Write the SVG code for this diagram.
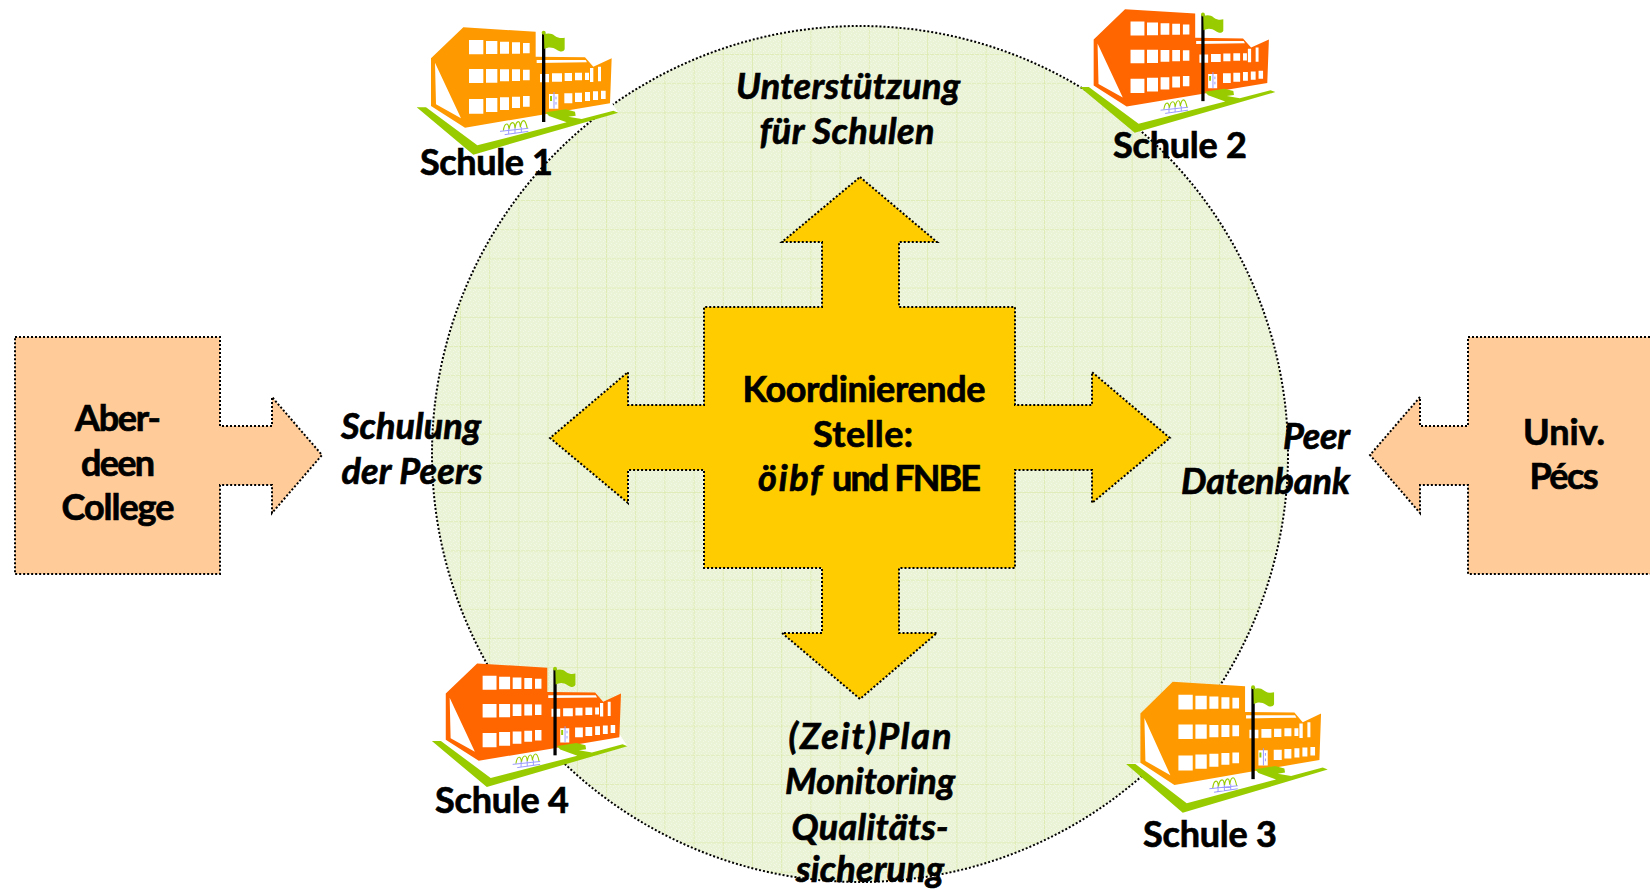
<svg xmlns="http://www.w3.org/2000/svg" width="1650" height="889" viewBox="0 0 1650 889">
<style>
text{font-family:"Lato","Noto Sans","Liberation Sans",sans-serif;font-weight:700;font-size:36px;fill:#000;stroke:#000;stroke-width:.7;text-anchor:middle}
.i{font-style:italic}
.dot{stroke:#000;stroke-width:2;stroke-dasharray:2 2}
.w{fill:#fff}
.g{fill:#9c0}
.fence{fill:none;stroke:#9c0;stroke-width:3.5}
.b{fill:none;stroke:#99f;stroke-width:3}
</style>
<defs>
<pattern id="grid" patternUnits="userSpaceOnUse" x="460" y="346" width="29.2" height="29.2">
<rect width="29.2" height="29.2" fill="#ebf3d6"/>
<path d="M0 0H29.2M0 0V29.2" fill="none" stroke="#d6e7a0" stroke-width="1.2"/>
</pattern>
<pattern id="dither" patternUnits="userSpaceOnUse" width="5" height="5">
<path d="M0 0h1v1H0zM3 1h1v1H3zM1 3h1v1H1zM4 4h1v1H4z" fill="#fff" opacity=".4"/>
</pattern>
<g id="school">
<path class="w" d="M93 318L50 322L232 436L655 338L630 300Z"/>
<path fill="currentColor" d="M190 82L407 95V170L555 172L580 200L635 175L630 310L195 383L93 318V175Z"/>
<path class="w" d="M105 188L183 355L108 313ZM410 180H557L561 187L410 189Z"/>
<path class="w" d="M207 120h43v43h-43zM258 123h34v39h-34zM300 125h27v36h-27zM336 127h24v34h-24zM369 129h20v31h-20zM207 207h43v42h-43zM258 207h34v41h-34zM300 208h27v36h-27zM336 208h24v35h-24zM369 209h20v32h-20zM207 297h43v44h-43zM258 294h34v42h-34zM300 292h27v38h-27zM336 290h24v34h-24zM369 288h20v32h-20zM420 222h27v25h-27zM456 220h30v25h-30zM494 219h22v24h-22zM525 218h21v23h-21zM555 218h12v22h-12zM493 280h24v30h-24zM525 278h21v28h-21zM555 276h15v27h-15zM579 274h15v26h-15zM603 272h14v25h-14zM570 204h10v42h-10zM594 200h9v44h-9zM447 282h28v44h-28z"/>
<path class="g" d="M450 288h6v15h-6zM50 322H78L232 436L500 367L447 348L437 337L497 328L525 335L527 347L505 350L545 357L640 332L655 338L220 464Z"/>
<path class="b" d="M462 276V326M468 290v8M468 306v8"/>
<path class="fence" d="M310 392Q313 372 320 372Q326 372 327 388Q330 368 338 368Q344 368 345 385Q348 365 355 365Q360 365 361 382Q364 362 371 362Q377 362 382 386"/>
<path class="b" d="M300 394L385 385M314 404L385 394M326 385V402M345 383V400M364 381V397"/>
<rect x="426" y="100" width="10" height="266" fill="#000"/>
<circle class="g" cx="431" cy="98" r="6"/>
<path class="g" d="M432 103C445 99 455 100 465 108C475 115 485 115 494 113L494 148C490 157 480 156 470 149C458 141 445 140 433 147Z"/>
</g>
</defs>
<g id="circle">
<circle cx="860" cy="454" r="428" fill="url(#grid)"/>
<circle cx="860" cy="454" r="428" fill="url(#dither)" class="dot"/>
</g>

<g id="connectors">
<path id="cross" class="dot" fill="#fc0" d="M860 177L937 242H899V307H1015V405H1092V372L1170 438L1092 503V470H1015V568H899V633H937L860 699L782 633H822V568H704V470H628V503L550 438L628 372V405H704V307H822V242H782Z"/>
<path id="arrow-left" class="dot" fill="#fc9" d="M15 337H220V426H272V397L322 455L272 513V485H220V574H15Z"/>
<path id="arrow-right" class="dot" fill="#fc9" d="M1650 337H1468V426H1420V397L1370 455L1420 513V485H1468V574H1650"/>
</g>

<g id="node-schule-1" color="#f90"><use href="#school" transform="translate(400 0) scale(.33333)"/><text x="486.5" y="175" textLength="133" lengthAdjust="spacing">Schule 1</text></g>
<g id="node-schule-2" color="#f60"><use href="#school" transform="translate(1063.6 -17.2) scale(.3233)"/><text x="1180" y="158" textLength="134" lengthAdjust="spacing">Schule 2</text></g>
<g id="node-schule-3" color="#f90"><use href="#school" transform="translate(1109.4 653.6) scale(.33333 .343)"/><text x="1210" y="847" textLength="134" lengthAdjust="spacing">Schule 3</text></g>
<g id="node-schule-4" color="#f60"><use href="#school" transform="translate(415.7 637) scale(.3233)"/><text x="502" y="813" textLength="134" lengthAdjust="spacing">Schule 4</text></g>

<g id="node-center">
<text x="864" y="402" textLength="243" lengthAdjust="spacing">Koordinierende</text>
<text x="863" y="447" textLength="100" lengthAdjust="spacing">Stelle:</text>
<text y="491" style="text-anchor:start"><tspan class="i" x="758" textLength="64">öibf</tspan><tspan x="832" textLength="149">und FNBE</tspan></text>
</g>
<g id="node-aberdeen">
<text x="118" y="431" textLength="86" lengthAdjust="spacing">Aber-</text>
<text x="118" y="476" textLength="74" lengthAdjust="spacing">deen</text>
<text x="118" y="520" textLength="113" lengthAdjust="spacing">College</text>
</g>
<g id="node-pecs">
<text x="1564" y="445" textLength="82" lengthAdjust="spacing">Univ.</text>
<text x="1564" y="489" textLength="69" lengthAdjust="spacing">Pécs</text>
</g>
<g id="label-top">
<text class="i" x="848" y="99" textLength="224" lengthAdjust="spacing">Unterstützung</text>
<text class="i" x="847" y="144" textLength="175" lengthAdjust="spacing">für Schulen</text>
</g>
<g id="label-left">
<text class="i" x="411" y="439" textLength="140" lengthAdjust="spacing">Schulung</text>
<text class="i" x="412" y="484" textLength="141" lengthAdjust="spacing">der Peers</text>
</g>
<g id="label-right">
<text class="i" x="1316.5" y="449" textLength="67" lengthAdjust="spacing">Peer</text>
<text class="i" x="1265.5" y="494" textLength="169" lengthAdjust="spacing">Datenbank</text>
</g>
<g id="label-bottom">
<text class="i" x="870" y="749" textLength="163" lengthAdjust="spacing">(Zeit)Plan</text>
<text class="i" x="870" y="794" textLength="170" lengthAdjust="spacing">Monitoring</text>
<text class="i" x="870" y="840" textLength="157" lengthAdjust="spacing">Qualitäts-</text>
<text class="i" x="870" y="882" textLength="148" lengthAdjust="spacing">sicherung</text>
</g>
</svg>
